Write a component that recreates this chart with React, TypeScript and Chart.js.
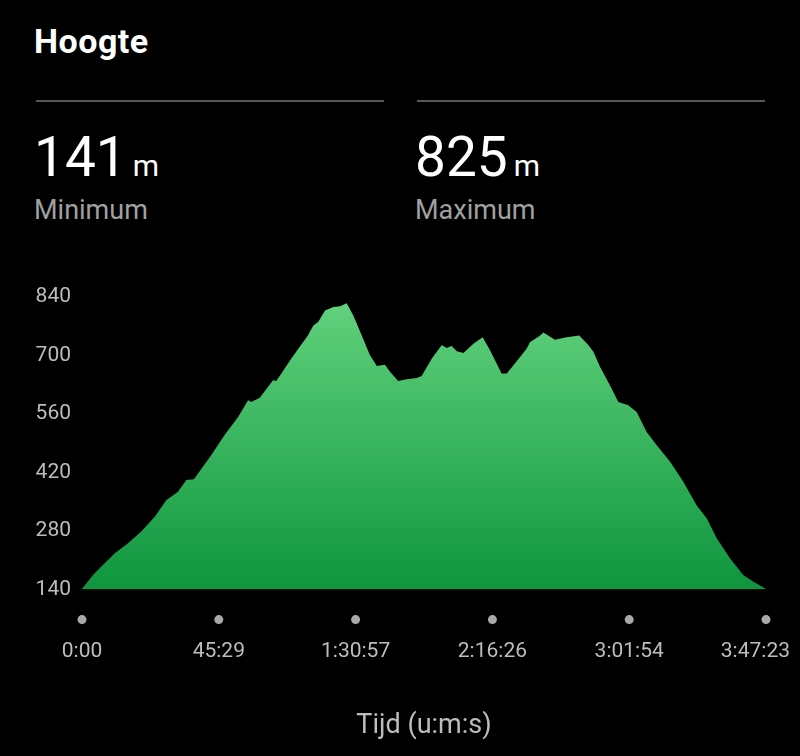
import React, { useEffect, useRef } from "react";
import { Chart, registerables } from "chart.js";

Chart.register(...registerables);

// Elevation profile: elapsed time (minutes) and altitude (m)
const TIME_MIN = [
  0, 4.2, 10.9, 15.3, 19.7, 24.2, 28.0, 31.9, 34.7, 37.2,
  43.0, 47.4, 51.9, 55.2, 56.3, 59.1, 63.5, 64.6, 69.6, 72.5,
  75.1, 76.9, 78.5, 80.8, 83.5, 85.8, 88.0, 90.2, 93.0, 95.7,
  98.0, 100.7, 102.4, 105.1, 107.9, 111.3, 112.9, 116.3, 119.6, 121.2,
  122.9, 124.6, 126.8, 130.1, 133.2, 135.6, 139.5, 141.2, 143.9, 147.8,
  148.9, 152.3, 153.4, 157.2, 161.1, 165.3, 168.3, 170.0, 172.2, 175.5,
  178.3, 181.6, 184.4, 187.7, 191.0, 195.5, 199.9, 204.3, 207.7, 211.0,
  215.4, 219.8, 223.2, 227.0, 227.4,
];
const ELEVATION_M = [
  142, 179, 227, 251, 279, 314, 354, 374, 402, 404,
  462, 510, 553, 593, 589, 599, 641, 639, 693, 722,
  748, 772, 780, 808, 816, 818, 825, 796, 748, 701,
  675, 678, 661, 639, 643, 646, 651, 693, 725, 718,
  723, 710, 706, 728, 744, 713, 657, 657, 681, 716,
  732, 748, 755, 738, 744, 748, 725, 709, 673, 629,
  589, 581, 565, 517, 486, 446, 398, 342, 310, 263,
  215, 175, 159, 143, 141,
];

const DURATION_S = 13643;
const X_TICK_COUNT = 6;
const Y_MIN = 140;
const Y_MAX = 840;
const Y_STEP = 140;
const MIN_ELEVATION = 141;
const MAX_ELEVATION = 825;

const FONT = "Roboto, 'Noto Sans', sans-serif";
const TICK_COLOR = "#bdbdbd";

function formatDuration(totalSeconds: number): string {
  const s = Math.round(totalSeconds);
  const h = Math.floor(s / 3600);
  const m = Math.floor((s % 3600) / 60);
  const sec = s % 60;
  const pad = (n: number) => String(n).padStart(2, "0");
  if (h > 0) return `${h}:${pad(m)}:${pad(sec)}`;
  return `${m}:${pad(sec)}`;
}

// Draws a dot and a time label under every x tick, keeping the last label inside the canvas
const timeTicksPlugin = {
  id: "timeTicks",
  afterDraw(chart: any) {
    const scale = chart.scales.x;
    const { ctx, chartArea, width } = chart;
    ctx.save();
    ctx.font = `21px ${FONT}`;
    ctx.textBaseline = "middle";
    ctx.textAlign = "center";
    scale.ticks.forEach((tick: any) => {
      const px = scale.getPixelForValue(tick.value);
      ctx.fillStyle = "#a9a9a9";
      ctx.beginPath();
      ctx.arc(px, chartArea.bottom + 30, 4.5, 0, Math.PI * 2);
      ctx.fill();
      const label = formatDuration(tick.value * 60);
      const w = ctx.measureText(label).width;
      let lx = px;
      if (lx + w / 2 > width - 10) lx = width - 10 - w / 2;
      if (lx - w / 2 < 10) lx = 10 + w / 2;
      ctx.fillStyle = TICK_COLOR;
      ctx.fillText(label, lx, chartArea.bottom + 62);
    });
    ctx.restore();
  },
};

function ElevationChart() {
  const canvasRef = useRef<HTMLCanvasElement | null>(null);

  useEffect(() => {
    const canvas = canvasRef.current;
    if (!canvas) return;
    const points = TIME_MIN.map((t, i) => ({ x: t, y: ELEVATION_M[i] }));
    const chart = new Chart(canvas, {
      type: "line",
      data: {
        datasets: [
          {
            data: points,
            fill: "start",
            borderWidth: 0,
            pointRadius: 0,
            tension: 0,
            backgroundColor: (c: any) => {
              const area = c.chart.chartArea;
              if (!area) return "#3cb55c";
              const g = c.chart.ctx.createLinearGradient(0, area.top, 0, area.bottom);
              g.addColorStop(0, "#63d27e");
              g.addColorStop(1, "#0e953e");
              return g;
            },
          },
        ],
      },
      options: {
        animation: false,
        responsive: false,
        maintainAspectRatio: false,
        layout: { padding: { top: 37, right: 34, bottom: 0, left: 0 } },
        plugins: { legend: { display: false }, tooltip: { enabled: false } },
        scales: {
          x: {
            type: "linear",
            min: 0,
            max: DURATION_S / 60,
            grid: { display: false, drawTicks: false },
            border: { display: false },
            ticks: { display: false },
            afterBuildTicks: (scale: any) => {
              const step = DURATION_S / 60 / (X_TICK_COUNT - 1);
              scale.ticks = Array.from({ length: X_TICK_COUNT }, (_, i) => ({ value: i * step }));
            },
            title: {
              display: true,
              text: "Tijd (u:m:s)",
              color: TICK_COLOR,
              font: { family: FONT, size: 27, lineHeight: 1.2 },
              padding: { top: 120, bottom: 14 },
            },
          },
          y: {
            min: Y_MIN,
            max: Y_MAX,
            grid: { display: false, drawTicks: false },
            border: { display: false },
            afterFit: (scale: any) => {
              scale.width = 82;
            },
            ticks: {
              stepSize: Y_STEP,
              padding: 11,
              color: TICK_COLOR,
              font: { family: FONT, size: 21 },
            },
          },
        },
      },
      plugins: [timeTicksPlugin],
    });
    return () => chart.destroy();
  }, []);

  return (
    <canvas
      ref={canvasRef}
      width={800}
      height={496}
      style={{ position: "absolute", left: 0, top: 260, width: 800, height: 496 }}
    />
  );
}

function Stat({ left, value, label }: { left: number; value: number; label: string }) {
  return (
    <>
      <div style={{ position: "absolute", left: left + 2, top: 100, width: 348, height: 2, background: "#575757" }} />
      <div
        style={{
          position: "absolute",
          left,
          top: 130,
          fontSize: 55,
          lineHeight: "55px",
          color: "#ffffff",
          whiteSpace: "nowrap",
        }}
      >
        {value}
        <span style={{ fontSize: 30, marginLeft: 6 }}>m</span>
      </div>
      <div
        style={{
          position: "absolute",
          left,
          top: 197,
          fontSize: 27,
          lineHeight: "27px",
          color: "#a0a0a0",
          whiteSpace: "nowrap",
        }}
      >
        {label}
      </div>
    </>
  );
}

export default function App() {
  return (
    <div
      style={{
        position: "absolute",
        left: 0,
        top: 0,
        width: 800,
        height: 756,
        background: "#000000",
        fontFamily: FONT,
        overflow: "hidden",
      }}
    >
      <div
        style={{
          position: "absolute",
          left: 34,
          top: 24,
          fontSize: 34,
          lineHeight: "34px",
          fontWeight: 700,
          letterSpacing: 0.5,
          color: "#ffffff",
        }}
      >
        Hoogte
      </div>
      <Stat left={34} value={MIN_ELEVATION} label="Minimum" />
      <Stat left={415} value={MAX_ELEVATION} label="Maximum" />
      <ElevationChart />
    </div>
  );
}
